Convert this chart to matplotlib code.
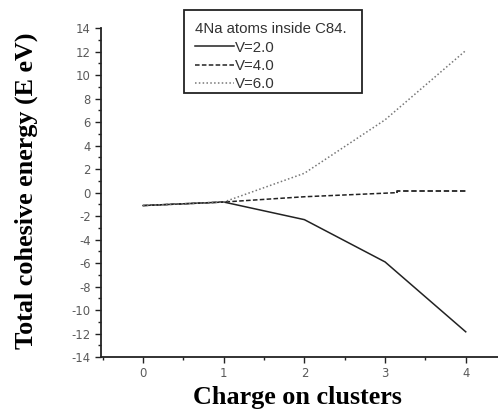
import matplotlib
matplotlib.use("Agg")
import matplotlib.pyplot as plt
from matplotlib.patches import Rectangle
from matplotlib.ticker import MultipleLocator

plt.rcParams["axes.unicode_minus"] = False

charge = [0, 1, 2, 3, 4]
e_v2 = [-1.1, -0.8, -2.3, -5.9, -11.85]
e_v4 = [-1.1, -0.8, -0.35, 0.0, 0.1]
e_v6 = [-1.1, -0.8, 1.65, 6.2, 12.1]
series_labels = ["V=2.0", "V=4.0", "V=6.0"]
legend_title = "4Na atoms inside C84."

W, H = 498, 409
fig = plt.figure(figsize=(W / 100, H / 100), dpi=100)
ax = fig.add_axes([0.203, 0.127, 0.797, 0.804])

dash = (0, (3, 1.5))
ax.plot(charge, e_v2, color="#222222", lw=1.1, ls="-", label=series_labels[0])
# V=4.0 curve: small step up just past charge 3
ax.plot(charge[:3] + [3.15], e_v4[:3] + [e_v4[3]], color="#222222", lw=1.1, ls=dash)
ax.plot([3.15, 3.15, charge[4]], [e_v4[3], e_v4[4], e_v4[4]], color="#222222",
        lw=1.3, ls=dash)
ax.plot([], [], color="#222222", lw=1.1, ls=dash, label=series_labels[1])
ax.plot(charge, e_v6, color="#777777", lw=1.1, ls=(0, (1, 1.5)), label=series_labels[2])

ax.set_xlim(-0.52, 4.4)
ax.set_ylim(-14, 14)
ax.xaxis.set_major_locator(MultipleLocator(1))
ax.xaxis.set_minor_locator(MultipleLocator(0.5))
ax.yaxis.set_major_locator(MultipleLocator(2))
ax.yaxis.set_minor_locator(MultipleLocator(1))
ax.tick_params(which="major", direction="out", length=4, width=1,
               labelsize=8.4, colors="#222222")
ax.tick_params(axis="both", which="major", labelcolor="#5a5a5a")
ax.tick_params(which="minor", direction="out", length=2.5, width=1, color="#222222")
for s in ("top", "right"):
    ax.spines[s].set_visible(False)
for s in ("left", "bottom"):
    ax.spines[s].set_linewidth(1.3)
    ax.spines[s].set_color("#222222")

fig.text(297 / W, 1 - 404 / H, "Charge on clusters", family="Liberation Serif",
         weight="bold", fontsize=18.8, ha="center", va="baseline")
fig.text(26 / W, 1 - 191 / H, "Total cohesive energy (E eV)",
         family="Liberation Serif", weight="bold", fontsize=18.8,
         rotation=90, ha="center", va="center")

# legend box drawn as its own frame
fig.patches.append(Rectangle((184 / W, 1 - 93 / H), 178 / W, 83 / H,
                             transform=fig.transFigure, fill=False,
                             edgecolor="#222222", lw=1.3))
leg = ax.legend(title=legend_title, loc="upper left",
                bbox_to_anchor=(195 / W, 1 - 22 / H),
                bbox_transform=fig.transFigure, frameon=False,
                title_fontsize=10.8, handlelength=2.6, handletextpad=0.05,
                labelspacing=0.3, borderpad=0, borderaxespad=0,
                prop={"family": "Liberation Sans", "size": 10.8})
leg._legend_box.align = "left"
leg.get_title().set_family("Liberation Sans")
for t in leg.get_texts() + [leg.get_title()]:
    t.set_color("#333333")

fig.savefig("out.png", dpi=100)
